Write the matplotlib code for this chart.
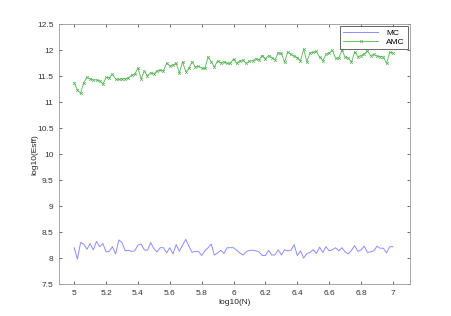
import numpy as np
import matplotlib.pyplot as plt
from matplotlib.ticker import FuncFormatter

plt.rcParams['font.family'] = ['Liberation Sans', 'DejaVu Sans']

# log10(N) grid
logN = np.round(np.arange(5.0, 7.0001, 0.02), 2)

mc = [8.20, 7.98, 8.30, 8.27, 8.17, 8.28, 8.16, 8.32, 8.22, 8.28,
      8.12, 8.13, 8.22, 8.08, 8.35, 8.30, 8.14, 8.15, 8.13, 8.14,
      8.25, 8.27, 8.16, 8.15, 8.30, 8.18, 8.12, 8.20, 8.20, 8.10,
      8.20, 8.08, 8.26, 8.13, 8.25, 8.36, 8.23, 8.11, 8.13, 8.13,
      8.05, 8.14, 8.20, 8.27, 8.06, 8.10, 8.15, 8.09, 8.20, 8.20,
      8.20, 8.15, 8.10, 8.06, 8.12, 8.15, 8.15, 8.14, 8.12, 8.05,
      8.05, 8.15, 8.06, 8.06, 8.16, 8.06, 8.16, 8.14, 8.15, 8.26,
      8.05, 8.14, 8.00, 8.09, 8.11, 8.16, 8.09, 8.21, 8.11, 8.22,
      8.14, 8.16, 8.20, 8.14, 8.20, 8.12, 8.08, 8.15, 8.24, 8.13,
      8.16, 8.23, 8.11, 8.12, 8.14, 8.23, 8.19, 8.19, 8.10, 8.22,
      8.22]

amc = [11.38, 11.24, 11.17, 11.38, 11.48, 11.45, 11.43, 11.43, 11.41, 11.35,
       11.48, 11.47, 11.54, 11.45, 11.44, 11.45, 11.45, 11.47, 11.52, 11.54,
       11.66, 11.45, 11.60, 11.51, 11.57, 11.55, 11.60, 11.62, 11.61, 11.75,
       11.70, 11.72, 11.75, 11.57, 11.78, 11.59, 11.65, 11.78, 11.68, 11.69,
       11.66, 11.65, 11.87, 11.78, 11.68, 11.80, 11.76, 11.78, 11.75, 11.75,
       11.83, 11.75, 11.80, 11.81, 11.75, 11.79, 11.80, 11.84, 11.82, 11.90,
       11.84, 11.90, 11.86, 11.82, 11.95, 11.94, 11.77, 11.97, 11.92, 11.89,
       11.86, 11.80, 12.02, 11.78, 11.95, 11.96, 11.98, 11.87, 11.80, 11.92,
       11.95, 12.00, 11.85, 11.85, 12.00, 11.87, 11.85, 11.77, 11.97, 11.88,
       11.90, 11.93, 11.99, 11.90, 11.92, 11.89, 11.88, 11.87, 11.75, 11.96,
       11.95]

fig = plt.figure(figsize=(4.52, 3.16), dpi=100)
ax = fig.add_axes([0.131, 0.101, 0.776, 0.822])

ax.plot(logN, mc, color='#8c8cff', lw=0.7, label='MC')
ax.plot(logN, amc, color='#55b555', lw=0.6, marker='x', ms=2, mew=0.5, label='AMC')

ax.set_xlim(4.906, 7.107)
ax.set_ylim(7.5, 12.5)
ax.set_xticks(np.round(np.arange(5, 7.01, 0.2), 1))
ax.set_yticks(np.arange(7.5, 12.51, 0.5))
ax.xaxis.set_major_formatter(FuncFormatter(lambda v, p: '%g' % v))
ax.yaxis.set_major_formatter(FuncFormatter(lambda v, p: '%g' % v))
ax.tick_params(direction='in', top=True, right=True, length=2, width=0.5,
               labelsize=6, colors='#333333', pad=4)
for s in ax.spines.values():
    s.set_color('#999999')
    s.set_linewidth(0.6)

ax.set_xlabel('log10(N)', fontsize=6, labelpad=2, color='#222222')
ax.set_ylabel('log10(Esff)', fontsize=6, labelpad=-1, color='#222222')

leg = ax.legend(loc='upper right', fontsize=6, frameon=True, fancybox=False,
                borderaxespad=0.25, handlelength=4.2, handletextpad=1.0,
                labelspacing=0.15, borderpad=0.35, markerscale=1)
leg.get_frame().set_edgecolor('#222222')
leg.get_frame().set_linewidth(0.6)

fig.savefig('out.png', dpi=100)
